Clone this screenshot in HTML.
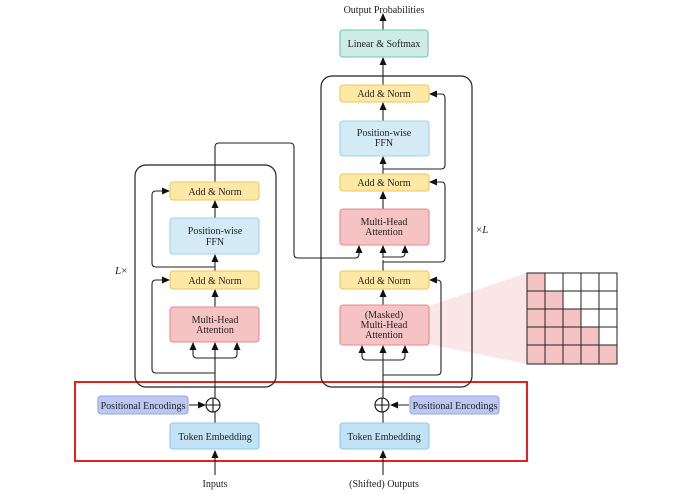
<!DOCTYPE html>
<html><head><style>body{margin:0;background:#fff}svg text{font-family:"Liberation Serif",serif;font-size:10px;fill:#222}</style></head><body>
<svg width="699" height="498" viewBox="0 0 699 498" xmlns="http://www.w3.org/2000/svg">
<defs><marker id="a" markerWidth="8" markerHeight="8" refX="7" refY="4" orient="auto" markerUnits="userSpaceOnUse"><path d="M0,0.5 L8,4 L0,7.5z" fill="#111"/></marker></defs>
<!-- mask fan -->
<polygon points="429,306 527,273 527,364 429,344" fill="#f9e0e0" opacity="0.8"/>
<!-- matrix -->
<g stroke="#222" stroke-width="1">
<rect x="527" y="273" width="90" height="91" fill="#fff"/>
<g fill="#f5c2c4" stroke="none">
<rect x="527" y="273" width="18" height="18"/>
<rect x="527" y="291" width="36" height="18"/>
<rect x="527" y="309" width="54" height="18"/>
<rect x="527" y="327" width="72" height="18"/>
<rect x="527" y="345" width="90" height="19"/>
</g>
<path d="M545,273V364M563,273V364M581,273V364M599,273V364M527,291H617M527,309H617M527,327H617M527,345H617" fill="none"/>
<rect x="527" y="273" width="90" height="91" fill="none"/>
</g>
<!-- red box -->
<rect x="75" y="382" width="452" height="79" fill="none" stroke="#e8201c" stroke-width="2"/>
<!-- layer boxes -->
<rect x="135" y="165" width="141" height="222" rx="11" fill="none" stroke="#222" stroke-width="1.2"/>
<rect x="321" y="76" width="151" height="311" rx="11" fill="none" stroke="#222" stroke-width="1.2"/>
<g fill="none" stroke="#222" stroke-width="1.1">
<!-- encoder -->
<path d="M215,475V451" marker-end="url(#a)"/>
<path d="M215,423V412"/>
<path d="M189,405H205" marker-end="url(#a)"/>
<path d="M215,398V358"/>
<path d="M215,360V343" marker-end="url(#a)"/>
<path d="M215,358H197Q193,358 193,354V343" marker-end="url(#a)"/>
<path d="M215,358H233Q237,358 237,354V343" marker-end="url(#a)"/>
<path d="M215,373H156Q152,373 152,369V284Q152,280 156,280H169" marker-end="url(#a)"/>
<path d="M215,307V290" marker-end="url(#a)"/>
<path d="M215,271V255" marker-end="url(#a)"/>
<path d="M215,267H156Q152,267 152,263V195Q152,191 156,191H169" marker-end="url(#a)"/>
<path d="M215,218V201" marker-end="url(#a)"/>
<path d="M215,182V147Q215,143 219,143H290Q294,143 294,147V254Q294,258 298,258H355Q359,258 359,254V246" marker-end="url(#a)"/>
<!-- decoder -->
<path d="M383,475V451" marker-end="url(#a)"/>
<path d="M383,423V412"/>
<path d="M409,405H391" marker-end="url(#a)"/>
<path d="M383,398V346" marker-end="url(#a)"/>
<path d="M383,360H366Q362,360 362,356V346" marker-end="url(#a)"/>
<path d="M383,360H401Q405,360 405,356V346" marker-end="url(#a)"/>
<path d="M383,375H437Q441,375 441,371V284Q441,280 437,280H430" marker-end="url(#a)"/>
<path d="M383,305V290" marker-end="url(#a)"/>
<path d="M383,271V260"/>
<path d="M383,262H441Q445,262 445,258V186Q445,182 441,182H430" marker-end="url(#a)"/>
<path d="M383,258V246" marker-end="url(#a)"/>
<path d="M383,257H401Q405,257 405,253V246" marker-end="url(#a)"/>
<path d="M383,209V192" marker-end="url(#a)"/>
<path d="M383,174V157" marker-end="url(#a)"/>
<path d="M383,169H441Q445,169 445,165V98Q445,94 441,94H430" marker-end="url(#a)"/>
<path d="M383,121V103" marker-end="url(#a)"/>
<path d="M383,85V58" marker-end="url(#a)"/>
<path d="M383,30V14" marker-end="url(#a)"/>
</g>
<!-- circles -->
<g fill="#fff" stroke="#111" stroke-width="1.1">
<circle cx="213" cy="405" r="7"/><path d="M206,405H220M213,398V412"/>
<circle cx="382" cy="405" r="7"/><path d="M375,405H389M382,398V412"/>
</g>
<!-- boxes -->
<g stroke-width="1.1">
<rect x="170" y="182" width="89" height="18" rx="3" fill="#fde9a5" stroke="#f2c55a"/>
<rect x="170" y="218" width="89" height="36" rx="3" fill="#d4ebf5" stroke="#9fd2ee"/>
<rect x="170" y="271" width="89" height="18" rx="3" fill="#fde9a5" stroke="#f2c55a"/>
<rect x="170" y="307" width="89" height="35" rx="3" fill="#f6c3c4" stroke="#ea8889"/>
<rect x="98" y="396" width="90" height="18" rx="3" fill="#bcc7f2" stroke="#97a6e8"/>
<rect x="170" y="423" width="89" height="26" rx="3" fill="#c1e3f5" stroke="#8fc8ea"/>
<rect x="340" y="30" width="88" height="27" rx="3" fill="#cdece3" stroke="#6cc8ab"/>
<rect x="340" y="85" width="89" height="17" rx="3" fill="#fde9a5" stroke="#f2c55a"/>
<rect x="340" y="121" width="89" height="35" rx="3" fill="#d4ebf5" stroke="#9fd2ee"/>
<rect x="340" y="174" width="89" height="17" rx="3" fill="#fde9a5" stroke="#f2c55a"/>
<rect x="340" y="209" width="89" height="36" rx="3" fill="#f6c3c4" stroke="#ea8889"/>
<rect x="340" y="271" width="89" height="18" rx="3" fill="#fde9a5" stroke="#f2c55a"/>
<rect x="340" y="305" width="89" height="40" rx="3" fill="#f6c3c4" stroke="#ea8889"/>
<rect x="410" y="396" width="89" height="18" rx="3" fill="#bcc7f2" stroke="#97a6e8"/>
<rect x="340" y="423" width="89" height="26" rx="3" fill="#c1e3f5" stroke="#8fc8ea"/>
</g>
<g text-anchor="middle">
<text x="215" y="195">Add &amp; Norm</text>
<text x="215" y="234">Position-wise</text><text x="215" y="245">FFN</text>
<text x="215" y="284">Add &amp; Norm</text>
<text x="215" y="323">Multi-Head</text><text x="215" y="333">Attention</text>
<text x="143" y="409">Positional Encodings</text>
<text x="215" y="440">Token Embedding</text>
<text x="215" y="487">Inputs</text>
<text x="384" y="47">Linear &amp; Softmax</text>
<text x="384" y="13">Output Probabilities</text>
<text x="384" y="97">Add &amp; Norm</text>
<text x="384" y="136">Position-wise</text><text x="384" y="146">FFN</text>
<text x="384" y="186">Add &amp; Norm</text>
<text x="384" y="225">Multi-Head</text><text x="384" y="235">Attention</text>
<text x="384" y="284">Add &amp; Norm</text>
<text x="384" y="318">(Masked)</text><text x="384" y="328">Multi-Head</text><text x="384" y="338">Attention</text>
<text x="455" y="409">Positional Encodings</text>
<text x="384" y="440">Token Embedding</text>
<text x="384" y="487">(Shifted) Outputs</text>
</g>
<text x="115" y="274" style="font-style:italic;font-size:11px">L<tspan style="font-style:normal">×</tspan></text>
<text x="476" y="233" style="font-size:11px">×<tspan style="font-style:italic">L</tspan></text>
</svg>
</body></html>
